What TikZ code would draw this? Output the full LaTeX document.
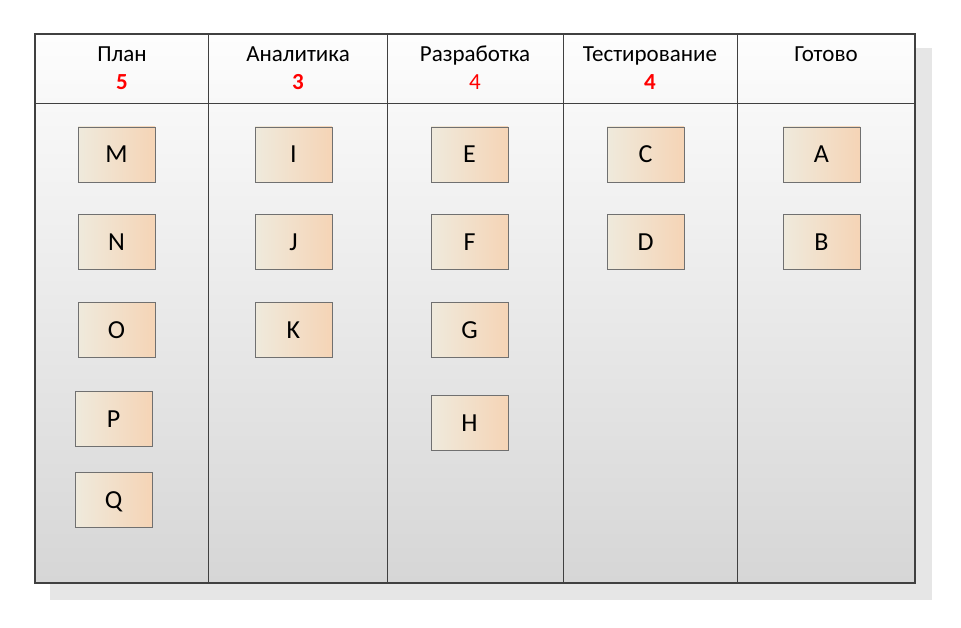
\documentclass[tikz,border=0pt]{standalone}
\usepackage{fontspec}
\setmainfont{Carlito}
\definecolor{shadowgray}{HTML}{E6E6E6}
\definecolor{bgtop}{HTML}{FDFDFD}
\definecolor{bgbot}{HTML}{D6D6D6}
\definecolor{framec}{HTML}{404040}
\definecolor{cardA}{HTML}{EFEADC}
\definecolor{cardB}{HTML}{F5D4B6}
\definecolor{cardline}{HTML}{707070}
\definecolor{numred}{HTML}{FF0000}
\tikzset{
  card/.style={draw=cardline, line width=0.8pt, left color=cardA, right color=cardB,
    minimum width=77pt, minimum height=55pt, inner sep=0pt, text height=17pt, text depth=0pt,
    font=\fontsize{26}{28}\selectfont},
  coltitle/.style={font=\fontsize{23}{25}\selectfont, inner sep=0pt, anchor=base},
  colnum/.style={font=\fontsize{23}{25}\selectfont\bfseries, text=numred, inner sep=0pt, anchor=base},
  colnumplain/.style={font=\fontsize{23}{25}\selectfont, text=numred, inner sep=0pt, anchor=base},
  divider/.style={draw=framec, line width=1pt}
}
\begin{document}
\begin{tikzpicture}[x=1pt,y=-1pt]
\useasboundingbox (0,0) rectangle (961,628);
\fill[shadowgray] (50,48) rectangle (932,600);
\shade[top color=bgtop, bottom color=bgbot] (35,34) rectangle (915,583);
\coordinate (tl) at (35,34);
\coordinate (br) at (915,583);
\coordinate (hl) at (35,104);
\coordinate (hr) at (915,104);
\draw[divider] (hl) -- (hr);
\foreach \x in {208,387,563,737} {
  \draw[divider] (\x,34) -- (\x,583);
}
\draw[draw=framec, line width=1.6pt] (tl) rectangle (br);

% headers
\node[coltitle] (h1) at (122,62) {План};
\node[colnum] (n1) at (122,90) {5};
\node[coltitle] (h2) at (298,62) {Аналитика};
\node[colnum] (n2) at (298,90) {3};
\node[coltitle] (h3) at (475,62) {Разработка};
\node[colnumplain] (n3) at (475,90) {4};
\node[coltitle] (h4) at (650,62) {Тестирование};
\node[colnum] (n4) at (650,90) {4};
\node[coltitle] (h5) at (826,62) {Готово};

% cards
\node[card] (M) at (116.5,154.5) {M};
\node[card] (N) at (116.5,242) {N};
\node[card] (O) at (116.5,330) {O};
\node[card] (P) at (113.5,418.5) {P};
\node[card] (Q) at (113.5,500) {Q};
\node[card] (I) at (293.5,154.5) {I};
\node[card] (J) at (293.5,242) {J};
\node[card] (K) at (293.5,330) {K};
\node[card] (E) at (469.5,154.5) {E};
\node[card] (F) at (469.5,242) {F};
\node[card] (G) at (469.5,330) {G};
\node[card] (H) at (469.5,423) {H};
\node[card] (C) at (645.5,154.5) {C};
\node[card] (D) at (645.5,242) {D};
\node[card] (A) at (821.5,154.5) {A};
\node[card] (B) at (821.5,242) {B};
\end{tikzpicture}
\end{document}
